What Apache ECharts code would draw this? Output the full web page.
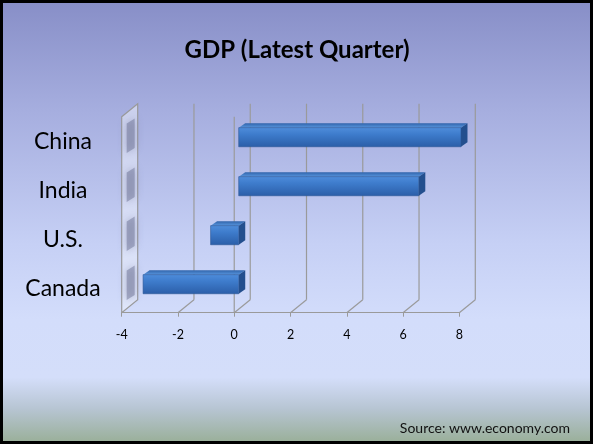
<!DOCTYPE html>
<html>
<head>
<meta charset="utf-8">
<script src="https://cdn.jsdelivr.net/npm/echarts@6/dist/echarts.min.js"></script>
<style>
html,body{margin:0;padding:0;}
#c{width:593px;height:444px;background:linear-gradient(to bottom,#878ec7 0%,#a6aedf 25%,#c6d0f5 55%,#d3ddfb 72%,#d4defa 85%,#b7c5d3 92%,#98ae96 100%);}
</style>
</head>
<body>
<div id="c"></div>
<script>
const categories = ['China', 'India', 'U.S.', 'Canada'];
const gdpValues = [7.9, 6.4, -1.0, -3.4];
const tickValues = [-4, -2, 0, 2, 4, 6, 8];
const titleText = 'GDP (Latest Quarter)';
const sourceText = 'Source: www.economy.com';

const DX = 16, DY = 13;           // depth of the 3D box
const FO = [4.5, -4];             // bar front-face offset into depth
const BD = [6.5, -4.5];           // bar depth
const FONT = 'Lato';

const chart = echarts.init(document.getElementById('c'), null, {renderer: 'canvas'});

function wallItem(params, api) {
  const cs = params.coordSys;
  const v = api.value(0);
  const p = api.coord([v, 0]);
  const x = p[0];
  const top = cs.y, bot = cs.y + cs.height;
  const lineStyle = {stroke: '#9a9a9a', lineWidth: 1.2, fill: null};
  const children = [];
  if (v === tickValues[0]) {
    children.push({type: 'polygon', shape: {points: [[x, top], [x + DX, top - DY], [x + DX, bot - DY], [x, bot]]},
      style: {fill: 'rgba(235,238,250,0.55)', stroke: '#9a9a9a', lineWidth: 1.2}});
  } else {
    children.push({type: 'line', shape: {x1: x + DX, y1: top - DY, x2: x + DX, y2: bot - DY}, style: lineStyle});
    children.push({type: 'line', shape: {x1: x, y1: bot, x2: x + DX, y2: bot - DY}, style: lineStyle});
  }
  if (v === 0) {
    children.push({type: 'line', shape: {x1: x, y1: top, x2: x, y2: bot}, style: lineStyle, z2: 50});
  }
  return {type: 'group', children: children};
}

function shadowItem(params, api) {
  const p = api.coord([tickValues[0], api.value(1)]);
  const bh = api.size([0, 1])[1];
  const x = p[0] + 5, y = p[1] - 3;
  const h = bh * 0.6;
  return {type: 'polygon', shape: {points: [[x, y - h / 2], [x + 8, y - h / 2 - 5], [x + 8, y + h / 2 - 5], [x, y + h / 2]]},
    style: {fill: 'rgba(110,115,150,0.5)', shadowBlur: 8, shadowColor: 'rgba(110,115,150,0.9)'}};
}

function barItem(params, api) {
  const val = api.value(0), cat = api.value(1);
  const p0 = api.coord([0, cat]);
  const p1 = api.coord([val, cat]);
  const bh = api.size([0, 1])[1] * 0.39;
  const xl = Math.min(p0[0], p1[0]) + FO[0];
  const xr = Math.max(p0[0], p1[0]) + FO[0];
  const yt = p0[1] + FO[1] - bh / 2;
  const yb = yt + bh;
  return {type: 'group', children: [
    {type: 'polygon', shape: {points: [[xl, yt], [xr, yt], [xr + BD[0], yt + BD[1]], [xl + BD[0], yt + BD[1]]]},
      style: {fill: new echarts.graphic.LinearGradient(0, 0, 0, 1, [{offset: 0, color: '#2f63aa'}, {offset: 1, color: '#5794dc'}])}},
    {type: 'polygon', shape: {points: [[xr, yt], [xr + BD[0], yt + BD[1]], [xr + BD[0], yb + BD[1]], [xr, yb]]},
      style: {fill: '#234f8e'}},
    {type: 'rect', shape: {x: xl, y: yt, width: xr - xl, height: bh},
      style: {fill: new echarts.graphic.LinearGradient(0, 0, 0, 1, [
        {offset: 0, color: '#4f8ddb'}, {offset: 0.35, color: '#3e7ccc'}, {offset: 1, color: '#2b5ea8'}]),
        stroke: '#2a5596', lineWidth: 0.6}}
  ]};
}

chart.setOption({
  animation: false,
  title: [
    {text: titleText, left: 292, top: 33, textAlign: 'center',
      textStyle: {fontFamily: FONT, fontWeight: 'bold', fontSize: 24, color: '#000'}},
    {text: sourceText, left: 565, top: 416, textAlign: 'right',
      textStyle: {fontFamily: FONT, fontWeight: 'normal', fontSize: 14, color: '#111'}}
  ],
  graphic: [{type: 'rect', shape: {x: 1.5, y: 1.5, width: 590, height: 441},
    style: {fill: null, stroke: '#000', lineWidth: 3}, z: 100}],
  grid: {left: 121.7, top: 116.7, width: 337.6, height: 196, containLabel: false},
  xAxis: {type: 'value', min: -4, max: 8, interval: 2,
    axisLine: {show: true, lineStyle: {color: '#9a9a9a', width: 1.2}},
    axisTick: {show: true, length: 4, lineStyle: {color: '#9a9a9a'}},
    splitLine: {show: false},
    axisLabel: {margin: 16, fontFamily: FONT, fontSize: 12.5, color: '#000'}},
  yAxis: {type: 'category', data: categories, inverse: true,
    axisLine: {show: false}, axisTick: {show: false}, splitLine: {show: false},
    axisLabel: {margin: 58.7, align: 'center', fontFamily: FONT, fontSize: 23, color: '#000'}},
  series: [
    {type: 'custom', renderItem: wallItem, data: tickValues.map(v => [v]), encode: {x: 0}, z: 1, silent: true},
    {type: 'custom', renderItem: shadowItem, data: categories.map((c, i) => [tickValues[0], i]), encode: {x: 0, y: 1}, z: 2, silent: true},
    {type: 'custom', renderItem: barItem, data: gdpValues.map((v, i) => [v, i]), encode: {x: 0, y: 1}, z: 3}
  ]
});
</script>
</body>
</html>
